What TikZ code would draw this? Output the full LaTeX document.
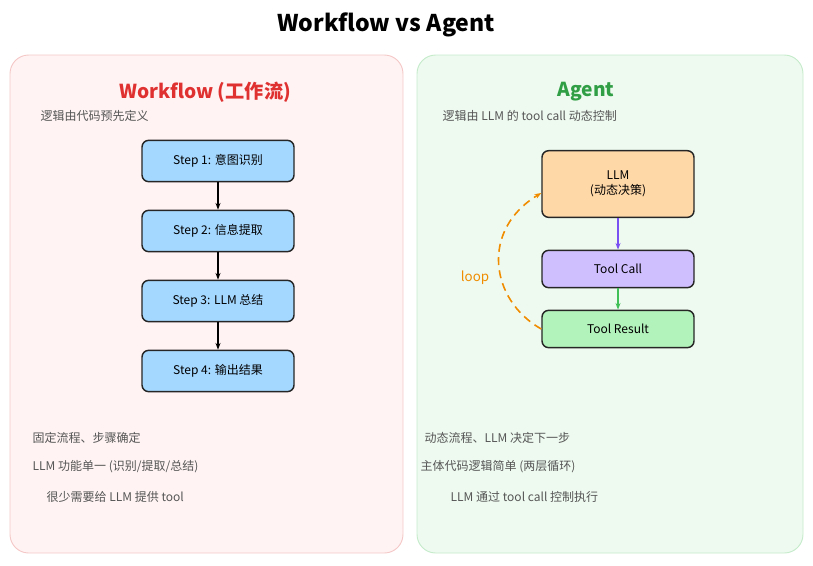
\documentclass[tikz,border=0pt]{standalone}
\usepackage{fontspec}
\setmainfont{Noto Sans CJK SC}
\usetikzlibrary{arrows.meta}
\definecolor{pinkbg}{HTML}{FFF3F3}\definecolor{pinkbd}{HTML}{F5C8C8}
\definecolor{greenbg}{HTML}{EEFAF0}\definecolor{greenbd}{HTML}{C5EBCB}
\definecolor{stepc}{HTML}{A5D8FF}\definecolor{llmc}{HTML}{FFD8A8}
\definecolor{callc}{HTML}{D0BFFF}\definecolor{resc}{HTML}{B2F2BB}
\definecolor{redt}{HTML}{E03131}\definecolor{greent}{HTML}{2F9E44}
\definecolor{grayt}{HTML}{555555}\definecolor{purp}{HTML}{7950F2}
\definecolor{grn}{HTML}{40C057}\definecolor{org}{HTML}{F08C00}
\tikzset{
 panel/.style={draw, rounded corners=14pt, line width=0.7pt},
 box/.style={draw=black!85, line width=1.1pt, rounded corners=5pt, minimum width=114pt, align=center, font=\small},
 note/.style={anchor=west, text=grayt, font=\small},
 arr/.style={-{Stealth[length=5pt]}, line width=0.9pt}
}
\begin{document}
\begin{tikzpicture}[x=0.75pt,y=-0.75pt]
\useasboundingbox (0,0) rectangle (813,565);
\node[font=\LARGE\bfseries] (title) at (386,25) {Workflow vs Agent};
\draw[panel, fill=pinkbg, draw=pinkbd] (10,55) rectangle (403,553);
\draw[panel, fill=greenbg, draw=greenbd] (417,55) rectangle (803,553);
\node[text=redt, font=\Large\bfseries] (wt) at (205,92) {Workflow (工作流)};
\node[note] (wd) at (36,116) {逻辑由代码预先定义};
\node[box, fill=stepc, minimum height=31pt] (s1) at (218,161) {Step 1: 意图识别};
\node[box, fill=stepc, minimum height=31pt] (s2) at (218,231) {Step 2: 信息提取};
\node[box, fill=stepc, minimum height=31pt] (s3) at (218,301) {Step 3: LLM 总结};
\node[box, fill=stepc, minimum height=31pt] (s4) at (218,371) {Step 4: 输出结果};
\draw[arr] (s1) -- (s2); \draw[arr] (s2) -- (s3); \draw[arr] (s3) -- (s4);
\node[text=greent, font=\Large\bfseries] (at) at (586,92) {Agent};
\node[note] (ad) at (438,116) {逻辑由 LLM 的 tool call 动态控制};
\node[box, fill=llmc, minimum height=50pt] (llm) at (618,184) {LLM\\(动态决策)};
\node[box, fill=callc, minimum height=28pt] (call) at (618,269) {Tool Call};
\node[box, fill=resc, minimum height=28pt] (res) at (618,329) {Tool Result};
\draw[arr, purp] (llm) -- (call);
\draw[arr, grn] (call) -- (res);
\draw[arr, org, line width=1.2pt, dash pattern=on 6pt off 4pt] (res.west) .. controls (490,300) and (480,230) .. (llm.west |- 0,193);
\node[text=org] (loop) at (475,278) {loop};
\node[note] (l1) at (28,438) {固定流程、步骤确定};
\node[note] (l2) at (28,467) {LLM 功能单一 (识别/提取/总结)};
\node[note] (l3) at (42,497) {很少需要给 LLM 提供 tool};
\node[note] (r1) at (420,438) {动态流程、LLM 决定下一步};
\node[note] (r2) at (416,467) {主体代码逻辑简单 (两层循环)};
\node[note] (r3) at (446,497) {LLM 通过 tool call 控制执行};
\end{tikzpicture}
\end{document}
